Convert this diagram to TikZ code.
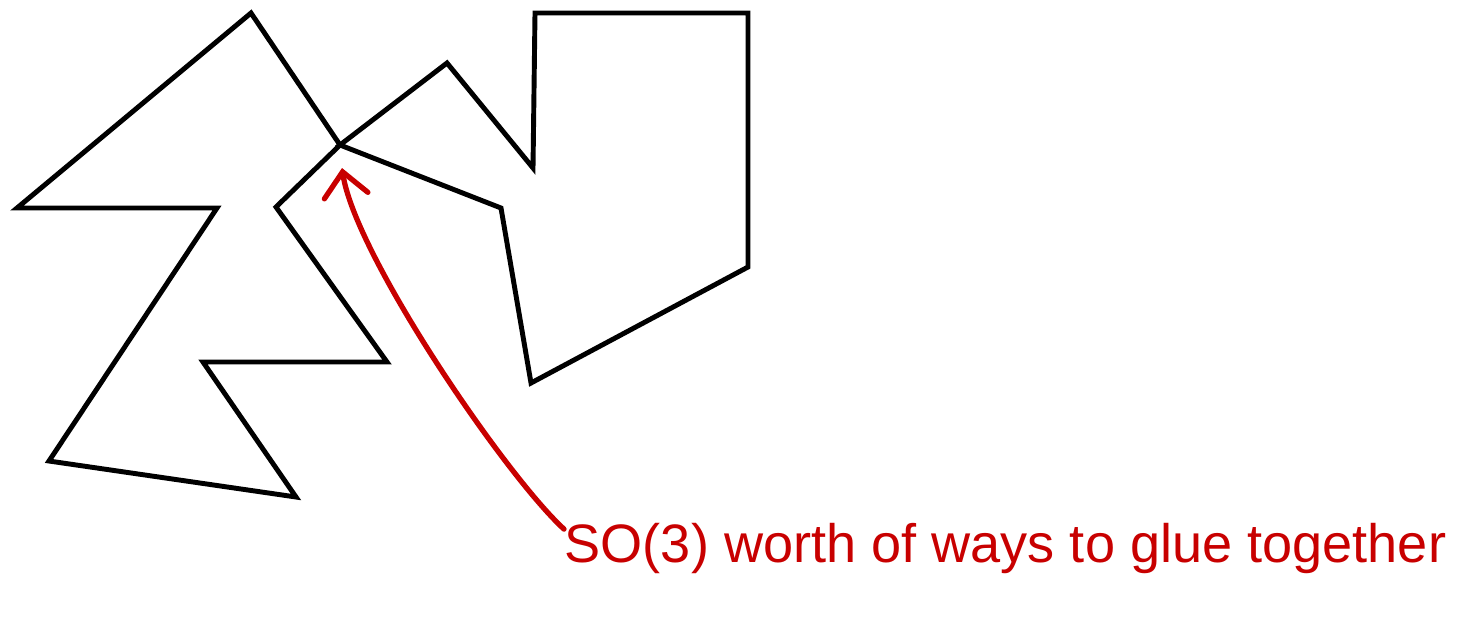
\documentclass[tikz,border=0pt]{standalone}
\usepackage{fontspec}
\setmainfont{Liberation Sans}
\usepackage{xcolor}
\usetikzlibrary{arrows.meta, positioning}
\definecolor{inkred}{RGB}{200, 0, 0}

\begin{document}
\begin{tikzpicture}[
    shapeline/.style={draw=black, line width=1.4pt, line join=miter},
    inkline/.style={draw=inkred, line width=1.5pt, line cap=round, -{Straight Barb[length=2.4mm, width=4.4mm, line cap=round]}},
    note/.style={text=inkred, font=\fontsize{15.4}{18}\selectfont, inner sep=0pt}
]
    \useasboundingbox (0,0) rectangle (14.67,-6.23);

    % Left piece
    \draw [shapeline] (0.17,-2.08) -- (2.51,-0.13) -- (3.40,-1.45) -- (2.76,-2.07)
        -- (3.87,-3.62) -- (2.03,-3.62) -- (2.96,-4.97) -- (0.49,-4.61)
        -- (2.17,-2.08) -- cycle;

    % Right piece
    \draw [shapeline] (3.40,-1.45) -- (4.47,-0.63) -- (5.33,-1.68) -- (5.35,-0.13)
        -- (7.48,-0.13) -- (7.48,-2.67) -- (5.31,-3.83) -- (5.01,-2.08) -- cycle;

    % Label and arrow to the joint
    \node (lbl) [note, anchor=base west] at (5.64,-5.62) {SO(3) worth of ways to glue together};
    \coordinate (joint) at (3.42,-1.68);

    \draw [inkline] ([yshift=-2pt]lbl.north west) .. controls (5.05,-4.75) and (3.55,-2.55) .. (joint);

\end{tikzpicture}
\end{document}
